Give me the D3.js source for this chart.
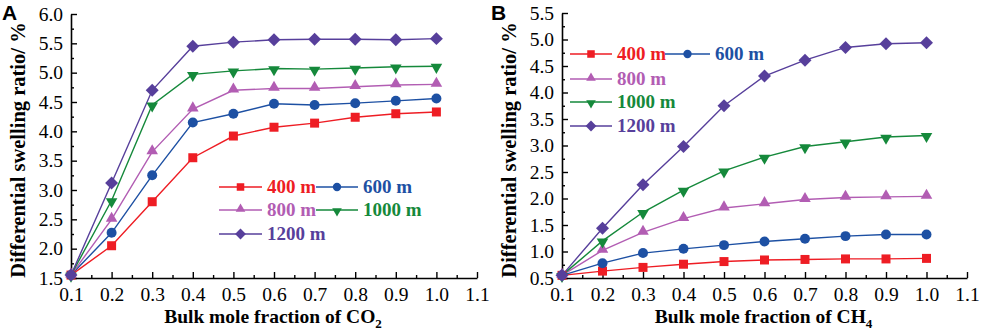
<!DOCTYPE html>
<html>
<head>
<meta charset="utf-8">
<script src="https://cdn.jsdelivr.net/npm/d3@7"></script>
<style>
  body { margin: 0; background: #fff; }
  svg { display: block; }
  .serif { font-family: 'Liberation Serif', 'Times New Roman', Tinos, 'DejaVu Serif', serif; }
</style>
</head>
<body>
<script>
// data
const molFraction = [0.1, 0.2, 0.3, 0.4, 0.5, 0.6, 0.7, 0.8, 0.9, 1.0]
const depths = ['400 m', '600 m', '800 m', '1000 m', '1200 m']

// panel A - CO2
const co2_400 = [1.55, 2.05, 2.8, 3.55, 3.92, 4.07, 4.14, 4.24, 4.3, 4.33]
const co2_600 = [1.55, 2.27, 3.25, 4.15, 4.3, 4.47, 4.45, 4.48, 4.52, 4.56]
const co2_800 = [1.55, 2.5, 3.65, 4.38, 4.7, 4.73, 4.73, 4.76, 4.79, 4.8]
const co2_1000 = [1.55, 2.82, 4.45, 4.97, 5.03, 5.07, 5.06, 5.08, 5.1, 5.11]
const co2_1200 = [1.55, 3.12, 4.7, 5.45, 5.52, 5.56, 5.57, 5.57, 5.56, 5.58]

// panel B - CH4
const ch4_400 = [0.55, 0.63, 0.7, 0.76, 0.81, 0.84, 0.85, 0.86, 0.86, 0.87]
const ch4_600 = [0.55, 0.78, 0.97, 1.05, 1.12, 1.19, 1.24, 1.29, 1.32, 1.32]
const ch4_800 = [0.55, 1.02, 1.36, 1.62, 1.82, 1.9, 1.98, 2.02, 2.03, 2.04]
const ch4_1000 = [0.55, 1.2, 1.74, 2.16, 2.52, 2.78, 2.98, 3.07, 3.16, 3.19]
const ch4_1200 = [0.55, 1.44, 2.26, 2.98, 3.75, 4.31, 4.61, 4.85, 4.92, 4.94]

const xTicks = [0.1, 0.2, 0.3, 0.4, 0.5, 0.6, 0.7, 0.8, 0.9, 1.0, 1.1]
const yTicksA = [1.5, 2.0, 2.5, 3.0, 3.5, 4.0, 4.5, 5.0, 5.5, 6.0]
const yTicksB = [0.5, 1.0, 1.5, 2.0, 2.5, 3.0, 3.5, 4.0, 4.5, 5.0, 5.5]

const colors = ['#ee1d24', '#1d50a3', '#b25db3', '#15893b', '#573f9b']

const svg = d3.select('body').append('svg')
  .attr('width', 982)
  .attr('height', 330)

// marker shapes: square, circle, triangle up, triangle down, diamond
function marker (g, i, s) {
  const k = s || 1
  if (i === 0) {
    g.append('path').attr('d', d3.symbol(d3.symbolSquare, 81 * k)())
  } else if (i === 1) {
    g.append('path').attr('d', d3.symbol(d3.symbolCircle, 78 * k)())
  } else if (i === 2) {
    g.append('path').attr('d', d3.symbol(d3.symbolTriangle, 58 * k)()).attr('transform', 'translate(0,-1)')
  } else if (i === 3) {
    g.append('path').attr('d', d3.symbol(d3.symbolTriangle, 58 * k)()).attr('transform', 'translate(0,1) rotate(180)')
  } else {
    g.append('path').attr('d', d3.symbol(d3.symbolSquare, 84 * k)()).attr('transform', 'rotate(45)')
  }
}

function drawPanel (cfg) {
  const x = d3.scaleLinear().domain([0.1, 1.1]).range([cfg.left, cfg.right])
  const y = d3.scaleLinear().domain(cfg.yDomain).range([cfg.bottom, cfg.top])

  const g = svg.append('g')

  // minor ticks
  const xMinor = d3.range(0.15, 1.1, 0.1)
  const yMinor = d3.range(cfg.yDomain[0] + 0.25, cfg.yDomain[1], 0.5)
  g.append('g')
    .attr('transform', `translate(0,${cfg.bottom})`)
    .call(d3.axisBottom(x).tickValues(xMinor).tickSize(-3).tickFormat(''))
    .call(a => a.select('.domain').remove())
  g.append('g')
    .attr('transform', `translate(${cfg.left},0)`)
    .call(d3.axisLeft(y).tickValues(yMinor).tickSize(-3).tickFormat(''))
    .call(a => a.select('.domain').remove())

  // major axes
  const xAxis = g.append('g')
    .attr('transform', `translate(0,${cfg.bottom})`)
    .call(d3.axisBottom(x).tickValues(xTicks).tickSize(-6).tickSizeOuter(0).tickPadding(9).tickFormat(d3.format('.1f')))
  const yAxis = g.append('g')
    .attr('transform', `translate(${cfg.left},0)`)
    .call(d3.axisLeft(y).tickValues(cfg.yTicks).tickSize(-6).tickSizeOuter(0).tickPadding(8).tickFormat(d3.format('.1f')))

  for (const a of [xAxis, yAxis]) {
    a.attr('font-family', null)
    a.selectAll('text').attr('class', 'serif').attr('font-size', 19.5).attr('fill', '#000')
    a.select('.domain').attr('stroke', '#000').attr('stroke-width', 1.6)
  }
  g.selectAll('.tick line').attr('stroke', '#000').attr('stroke-width', 1.4)

  // series
  const line = d3.line().x((d, i) => x(molFraction[i])).y(d => y(d))
  cfg.series.forEach((vals, i) => {
    g.append('path')
      .attr('d', line(vals))
      .attr('fill', 'none')
      .attr('stroke', colors[i])
      .attr('stroke-width', 1.4)
  })
  cfg.series.forEach((vals, i) => {
    vals.forEach((v, j) => {
      const m = g.append('g')
        .attr('transform', `translate(${x(molFraction[j])},${y(v)})`)
        .attr('fill', colors[i])
      marker(m, i)
    })
  })

  // axis titles
  g.append('text')
    .attr('class', 'serif')
    .attr('transform', `translate(${cfg.left - 46},150) rotate(-90)`)
    .attr('text-anchor', 'middle')
    .attr('font-weight', 'bold')
    .attr('font-size', 20.5)
    .text('Differential swelling ratio/ %')

  const xt = g.append('text')
    .attr('class', 'serif')
    .attr('x', (cfg.left + cfg.right) / 2 - 1)
    .attr('y', 323)
    .attr('text-anchor', 'middle')
    .attr('font-weight', 'bold')
    .attr('font-size', 19.5)
  xt.append('tspan').text('Bulk mole fraction of ' + cfg.gas)
  xt.append('tspan').attr('dy', 5).attr('font-size', 13).text(cfg.sub)

  // panel letter
  g.append('text')
    .attr('x', cfg.letterX)
    .attr('y', 20)
    .attr('font-family', 'Liberation Sans, Arial, sans-serif')
    .attr('font-weight', 'bold')
    .attr('font-size', 21)
    .text(cfg.letter)

  // legend
  cfg.legend.forEach(it => {
    const lg = g.append('g')
    lg.append('line')
      .attr('x1', it.x).attr('x2', it.x + it.w)
      .attr('y1', it.y).attr('y2', it.y)
      .attr('stroke', colors[it.i]).attr('stroke-width', 1.4)
    const m = lg.append('g')
      .attr('transform', `translate(${it.x + it.w / 2},${it.y})`)
      .attr('fill', colors[it.i])
    marker(m, it.i, 0.7)
    lg.append('text')
      .attr('class', 'serif')
      .attr('x', it.x + it.w + 5)
      .attr('y', it.y + 6)
      .attr('font-weight', 'bold')
      .attr('font-size', 19)
      .attr('fill', colors[it.i])
      .text(depths[it.i])
  })
}

drawPanel({
  left: 71, right: 477, top: 14, bottom: 278,
  yDomain: [1.5, 6.0], yTicks: yTicksA,
  series: [co2_400, co2_600, co2_800, co2_1000, co2_1200],
  gas: 'CO', sub: '2', letter: 'A', letterX: 2,
  legend: [
    { i: 0, x: 219, y: 187, w: 43 },
    { i: 1, x: 316, y: 187, w: 42 },
    { i: 2, x: 219, y: 210, w: 43 },
    { i: 3, x: 316, y: 210, w: 42 },
    { i: 4, x: 219, y: 234, w: 43 }
  ]
})

drawPanel({
  left: 562, right: 967, top: 13, bottom: 278,
  yDomain: [0.5, 5.5], yTicks: yTicksB,
  series: [ch4_400, ch4_600, ch4_800, ch4_1000, ch4_1200],
  gas: 'CH', sub: '4', letter: 'B', letterX: 491,
  legend: [
    { i: 0, x: 570, y: 54, w: 42 },
    { i: 1, x: 665, y: 54, w: 45 },
    { i: 2, x: 570, y: 79, w: 42 },
    { i: 3, x: 570, y: 102, w: 42 },
    { i: 4, x: 570, y: 126, w: 42 }
  ]
})
</script>
</body>
</html>
